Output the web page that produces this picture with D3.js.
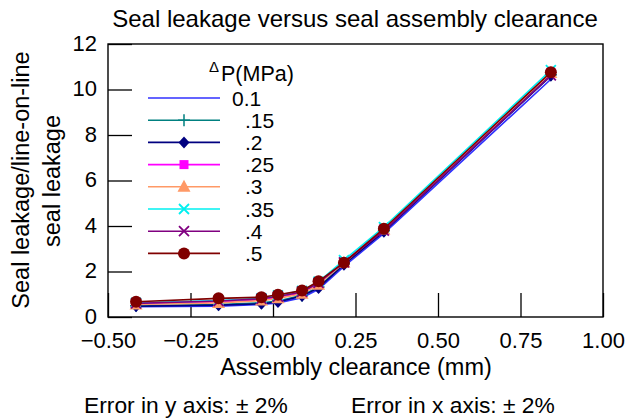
<!DOCTYPE html>
<html lang="en">
<head>
  <meta charset="utf-8">
  <title>Seal leakage</title>
  <script src="https://d3js.org/d3.v7.min.js" charset="utf-8"></script>
  <style>
    body { margin: 0; background: #fff; }
    text { font-family: "Liberation Sans", Arial, Helvetica, sans-serif; fill: #000; }
  </style>
</head>
<body>
<div class="chart"></div>
<script type="text/javascript">
  // assembly clearance (mm)
  var clearance = [-0.415, -0.165, -0.035, 0.015, 0.088, 0.138, 0.215, 0.336, 0.842];

  // leakage ratio per pressure drop
  var s01  = [0.45, 0.48, 0.55, 0.62, 0.85, 1.22, 2.22, 3.68, 10.45];
  var s015 = [0.50, 0.55, 0.62, 0.70, 0.95, 1.32, 2.35, 3.80, 10.65];
  var s02  = [0.47, 0.52, 0.58, 0.66, 0.92, 1.28, 2.30, 3.75, 10.60];
  var s025 = [0.58, 0.66, 0.75, 0.85, 1.05, 1.45, 2.42, 3.88, 10.75];
  var s03  = [0.55, 0.62, 0.72, 0.82, 1.02, 1.42, 2.38, 3.85, 10.72];
  var s035 = [0.62, 0.72, 0.82, 0.95, 1.15, 1.55, 2.50, 3.95, 10.85];
  var s04  = [0.60, 0.70, 0.80, 0.90, 1.10, 1.50, 2.40, 3.80, 10.62];
  var s05  = [0.67, 0.82, 0.87, 0.98, 1.16, 1.57, 2.39, 3.88, 10.76];

  var seriesNames = ["0.1", ".15", ".2", ".25", ".3", ".35", ".4", ".5"];
  var seriesVals = [s01, s015, s02, s025, s03, s035, s04, s05];
  var colors = ["#3030ff", "#008080", "#000080", "#ff00ff", "#ff9966", "#00f0f0", "#800080", "#800000"];
  var markers = ["none", "plus", "diamond", "square", "triangle", "cross", "cross", "circle"];

  var xTicks = [-0.5, -0.25, 0, 0.25, 0.5, 0.75, 1.0];
  var yTicks = [0, 2, 4, 6, 8, 10, 12];

  var W = 628, H = 419;
  var p = {top: 44, right: 25, bottom: 102, left: 108};

  var svg = d3.select(".chart").append("svg")
    .attr("width", W)
    .attr("height", H);

  var x = d3.scaleLinear().domain([-0.5, 1.0]).range([p.left, W - p.right]);
  var y = d3.scaleLinear().domain([0, 12]).range([H - p.bottom, p.top]);

  // title
  svg.append("text")
    .attr("x", 355).attr("y", 27)
    .attr("text-anchor", "middle")
    .style("font-size", "24px")
    .text("Seal leakage versus seal assembly clearance");

  // axes with inward ticks
  var xAxis = svg.append("g")
    .attr("transform", "translate(0," + y(0) + ")")
    .call(d3.axisBottom(x).tickValues(xTicks).tickSizeInner(-24).tickSizeOuter(0).tickPadding(0)
      .tickFormat(function(d){ return d3.format(".2f")(d).replace("-", "\u2212"); }));
  xAxis.select(".domain").remove();
  xAxis.selectAll("line").attr("stroke", "#000").attr("stroke-width", 1.3);
  xAxis.selectAll("text")
    .attr("y", 31).attr("dy", null)
    .style("font-size", "22px").style("font-family", "'Liberation Sans', Arial, sans-serif");

  var yAxis = svg.append("g")
    .attr("transform", "translate(" + x(-0.5) + ",0)")
    .call(d3.axisLeft(y).tickValues(yTicks).tickSizeInner(-24).tickSizeOuter(0).tickPadding(11));
  yAxis.select(".domain").remove();
  yAxis.selectAll("line").attr("stroke", "#000").attr("stroke-width", 1.3);
  yAxis.selectAll("text")
    .attr("dy", "0.28em")
    .style("font-size", "22px").style("font-family", "'Liberation Sans', Arial, sans-serif");

  // frame
  svg.append("rect")
    .attr("x", x(-0.5)).attr("y", y(12))
    .attr("width", x(1.0) - x(-0.5)).attr("height", y(0) - y(12))
    .attr("fill", "none").attr("stroke", "#000").attr("stroke-width", 1.4);

  // axis titles
  svg.append("text")
    .attr("x", 356).attr("y", 375)
    .attr("text-anchor", "middle")
    .style("font-size", "23.5px")
    .text("Assembly clearance (mm)");

  svg.append("text")
    .attr("transform", "translate(29,180) rotate(-90)")
    .attr("text-anchor", "middle")
    .style("font-size", "23.5px")
    .text("Seal leakage/line-on-line");
  svg.append("text")
    .attr("transform", "translate(60,181) rotate(-90)")
    .attr("text-anchor", "middle")
    .style("font-size", "23.5px")
    .text("seal leakage");

  // footer notes
  svg.append("text").attr("x", 84).attr("y", 413).style("font-size", "22.8px").text("Error in y axis: \u00b1 2%");
  svg.append("text").attr("x", 351).attr("y", 413).style("font-size", "22.8px").text("Error in x axis: \u00b1 2%");

  function drawMarker(g, type, cx, cy, color) {
    if (type == "circle") {
      g.append("circle").attr("cx", cx).attr("cy", cy).attr("r", 6).attr("fill", color);
    } else if (type == "square") {
      g.append("rect").attr("x", cx - 4.5).attr("y", cy - 4.5).attr("width", 9).attr("height", 9).attr("fill", color);
    } else if (type == "diamond") {
      g.append("path").attr("d", "M" + cx + "," + (cy - 6) + "L" + (cx + 5.5) + "," + cy + "L" + cx + "," + (cy + 6) + "L" + (cx - 5.5) + "," + cy + "Z").attr("fill", color);
    } else if (type == "triangle") {
      g.append("path").attr("d", "M" + cx + "," + (cy - 7) + "L" + (cx + 6.5) + "," + (cy + 5) + "L" + (cx - 6.5) + "," + (cy + 5) + "Z").attr("fill", color);
    } else if (type == "plus") {
      g.append("path").attr("d", "M" + cx + "," + (cy - 6) + "V" + (cy + 6) + "M" + (cx - 6) + "," + cy + "H" + (cx + 6))
        .attr("stroke", color).attr("stroke-width", 1.5);
    } else if (type == "cross") {
      g.append("path").attr("d", "M" + (cx - 5) + "," + (cy - 5) + "L" + (cx + 5) + "," + (cy + 5) + "M" + (cx - 5) + "," + (cy + 5) + "L" + (cx + 5) + "," + (cy - 5))
        .attr("stroke", color).attr("stroke-width", 1.8);
    }
  }

  var line = d3.line()
    .x(function(d){ return x(d[0]); })
    .y(function(d){ return y(d[1]); });

  seriesVals.forEach(function(vals, i){
    var pts = clearance.map(function(c, j){ return [c, vals[j]]; });
    var g = svg.append("g").attr("class", "series s" + i);
    g.append("path")
      .datum(pts)
      .attr("d", line)
      .attr("fill", "none")
      .attr("stroke", colors[i])
      .attr("stroke-width", 1.6);
    pts.forEach(function(pt){
      drawMarker(g, markers[i], x(pt[0]), y(pt[1]), colors[i]);
    });
  });

  // legend
  var leg = svg.append("g").attr("class", "legend");
  leg.append("text").attr("x", 209).attr("y", 72).style("font-size", "15px").text("\u0394");
  leg.append("text").attr("x", 221).attr("y", 81).style("font-size", "21.5px").text("P(MPa)");

  seriesNames.forEach(function(name, i){
    var ly = 98 + i * 22.2;
    leg.append("line")
      .attr("x1", 148).attr("x2", 220)
      .attr("y1", ly).attr("y2", ly)
      .attr("stroke", colors[i]).attr("stroke-width", 1.6);
    drawMarker(leg, markers[i], 184, ly, colors[i]);
    leg.append("text")
      .attr("x", i == 0 ? 232 : 245).attr("y", ly + 7.5)
      .style("font-size", "21px")
      .text(name);
  });
</script>
</body>
</html>
